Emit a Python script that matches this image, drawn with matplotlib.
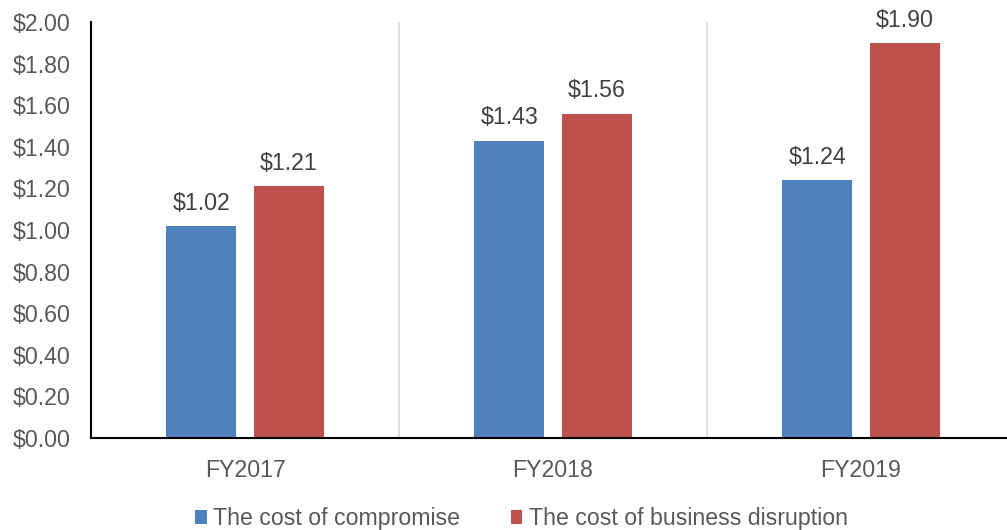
import matplotlib.pyplot as plt
import numpy as np

plt.rcParams['font.family'] = ['Liberation Sans', 'DejaVu Sans']

years = ['FY2017', 'FY2018', 'FY2019']
compromise = [1.02, 1.43, 1.24]
disruption = [1.21, 1.56, 1.90]
yticks = np.arange(0, 2.01, 0.2)

fig = plt.figure(figsize=(10.07, 5.30), dpi=100)
ax = fig.add_axes([0.0904, 0.1736, 0.9176, 0.7849])
ax.spines['bottom'].set_clip_on(False)

x = np.arange(len(years))
w = 0.227
off = 0.142
b1 = ax.bar(x - off, compromise, w, color='#4F81BD', label='The cost of compromise')
b2 = ax.bar(x + off, disruption, w, color='#C0504D', label='The cost of business disruption')

for bars, vals in ((b1, compromise), (b2, disruption)):
    for b, v in zip(bars, vals):
        ax.annotate(f'${v:.2f}', (b.get_x() + b.get_width() / 2, v),
                    xytext=(0, 8), textcoords='offset points',
                    ha='center', va='bottom', fontsize=16.7, color='#404040')

for s in (0.5, 1.5):
    ax.axvline(s, color='#D9D9D9', lw=1.2, zorder=0)

ax.set_xlim(-0.5, 2.5)
ax.set_ylim(0, 2.0)
ax.set_yticks(yticks)
ax.set_yticklabels([f'${t:.2f}' for t in yticks])
ax.set_xticks(x)
ax.set_xticklabels(years)
ax.tick_params(axis='both', length=0, labelsize=16.7, colors='#595959')
ax.tick_params(axis='y', pad=15)
ax.tick_params(axis='x', pad=15)
for s in ('top', 'right'):
    ax.spines[s].set_visible(False)
ax.spines['left'].set_color('black')
ax.spines['bottom'].set_color('black')
ax.spines['left'].set_linewidth(1.5)
ax.spines['bottom'].set_linewidth(1.5)

leg = fig.legend(loc='lower center', bbox_to_anchor=(0.518, -0.04), ncol=2, frameon=False,
                 fontsize=16.7, handlelength=0.5, handleheight=0.5, handletextpad=0.3,
                 columnspacing=2.17)
for t in leg.get_texts():
    t.set_color('#595959')

fig.savefig('out.png', dpi=100)
